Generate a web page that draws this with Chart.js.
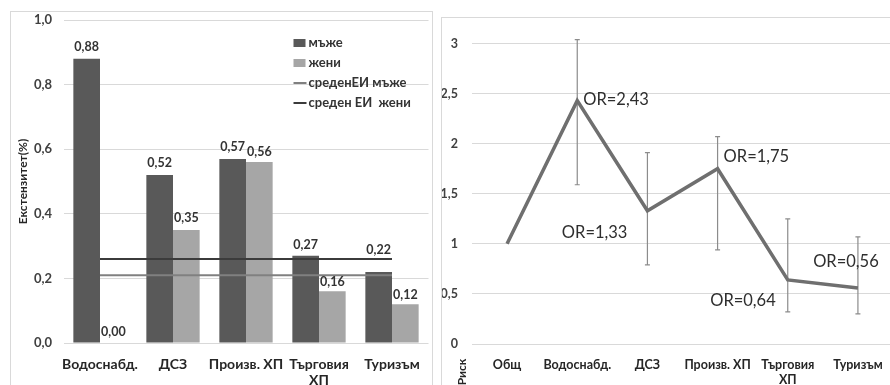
<!DOCTYPE html>
<html>
<head>
<meta charset="utf-8">
<script src="https://cdn.jsdelivr.net/npm/chart.js@4"></script>
<style>
  html, body { margin: 0; padding: 0; background: #fff; overflow: hidden; width: 890px; height: 385px; }
  .panel { position: absolute; background: #fff; }
  #p1 { left: 10px; top: 11px; width: 421px; height: 380px; border: 1px solid #d9d9d9; }
  #p2 { left: 441px; top: 17px; width: 460px; height: 380px; border-left: 1px solid #d9d9d9; border-top: 1px solid #d9d9d9; }
  canvas { position: absolute; left: 0; top: 0; }
</style>
</head>
<body>
<div id="p1" class="panel"><canvas id="extChart" width="421" height="373"></canvas></div>
<div id="p2" class="panel"><canvas id="orChart" width="452" height="367"></canvas></div>
<script>
// ---- Extensity by sector (%) ----
const sectors = ['Водоснабд.', 'ДСЗ', 'Произв. ХП', ['Търговия', 'ХП'], 'Туризъм'];
const men = [0.88, 0.52, 0.57, 0.27, 0.22];
const women = [0.00, 0.35, 0.56, 0.16, 0.12];
const meanMen = 0.21;
const meanWomen = 0.26;
const extTicks = [0, 0.2, 0.4, 0.6, 0.8, 1.0];

// ---- Odds ratio by sector, with confidence intervals ----
const riskGroups = ['Общ', 'Водоснабд.', 'ДСЗ', 'Произв. ХП', ['Търговия', 'ХП'], 'Туризъм'];
const oddsRatio = [1, 2.43, 1.33, 1.75, 0.64, 0.56];
const ciLow = [null, 1.59, 0.79, 0.94, 0.32, 0.30];
const ciHigh = [null, 3.04, 1.91, 2.07, 1.25, 1.07];
const riskTicks = [0, 0.5, 1, 1.5, 2, 2.5, 3];

// label placement (pixels, relative to the mark)
const valueLabelLift = [[12, 12, 12, 11, 22], [11, 12, 10, 9, 9]];
const orLabelPlacement = [
  null,
  { dx: 6, dy: -1, align: 'left' },
  { dx: -20, dy: 22, align: 'right' },
  { dx: 6, dy: -12, align: 'left' },
  { dx: -12, dy: 21, align: 'right' },
  { dx: -12, dy: -26, align: 'center' }
];

const FONT = 'Lato, "Liberation Sans", sans-serif';
const comma = v => String(v).replace('.', ',');

// keep the plot area exactly where the layout padding puts it
function noScalePadding(s) {
  s.paddingTop = 0; s.paddingBottom = 0; s.paddingLeft = 0; s.paddingRight = 0;
}

// values above the bars
const barValueLabels = {
  id: 'barValueLabels',
  afterDatasetsDraw(chart) {
    const ctx = chart.ctx;
    ctx.save();
    ctx.font = 'bold 12.5px ' + FONT;
    ctx.fillStyle = '#333';
    ctx.textAlign = 'center';
    ctx.textBaseline = 'middle';
    [0, 1].forEach(di => {
      const meta = chart.getDatasetMeta(di);
      const data = chart.data.datasets[di].data;
      meta.data.forEach((el, i) => {
        ctx.fillText(data[i].toFixed(2).replace('.', ','), el.x, el.y - valueLabelLift[di][i]);
      });
    });
    ctx.restore();
  }
};

// legend placed inside the plot area, top right
const insideLegend = {
  id: 'insideLegend',
  afterDraw(chart) {
    const ctx = chart.ctx;
    const area = chart.chartArea;
    const x0 = area.right - 135;
    let y = area.top + 23;
    ctx.save();
    ctx.font = 'bold 13px ' + FONT;
    ctx.textBaseline = 'middle';
    ctx.textAlign = 'left';
    chart.data.datasets.forEach(ds => {
      if (ds.type === 'line') {
        ctx.strokeStyle = ds.borderColor;
        ctx.lineWidth = 2;
        ctx.beginPath();
        ctx.moveTo(x0, y);
        ctx.lineTo(x0 + 13, y);
        ctx.stroke();
      } else {
        ctx.fillStyle = ds.backgroundColor;
        ctx.fillRect(x0, y - 4, 12, 8);
      }
      ctx.fillStyle = '#333';
      ctx.fillText(ds.label, x0 + 15, y);
      y += 20;
    });
    ctx.restore();
  }
};

new Chart(document.getElementById('extChart'), {
  type: 'bar',
  data: {
    labels: sectors,
    datasets: [
      { label: 'мъже', data: men, backgroundColor: '#595959', order: 2, categoryPercentage: 0.73, barPercentage: 1 },
      { label: 'жени', data: women, backgroundColor: '#a6a6a6', order: 2, categoryPercentage: 0.73, barPercentage: 1 },
      { type: 'line', label: 'среденЕИ мъже', data: sectors.map(() => meanMen), borderColor: '#808080', borderWidth: 2, pointRadius: 0, order: 1 },
      { type: 'line', label: 'среден ЕИ  жени', data: sectors.map(() => meanWomen), borderColor: '#3b3b3b', borderWidth: 2, pointRadius: 0, order: 1 }
    ]
  },
  options: {
    responsive: false,
    animation: false,
    layout: { padding: { left: 0, right: 3.5, top: 8, bottom: 0 } },
    plugins: { legend: { display: false }, tooltip: { enabled: false } },
    scales: {
      x: {
        grid: { display: false },
        border: { display: false },
        ticks: { color: '#262626', font: { family: FONT, size: 14, weight: 'bold', lineHeight: 1.15 }, padding: 5, maxRotation: 0, autoSkip: false },
        afterFit(s) { s.height = 42; noScalePadding(s); }
      },
      y: {
        min: 0, max: 1,
        grid: { color: '#d9d9d9', drawTicks: false },
        border: { display: false },
        afterBuildTicks(s) { s.ticks = extTicks.map(v => ({ value: v })); },
        ticks: { color: '#404040', font: { family: FONT, size: 13, weight: 'bold' }, padding: 11.5, callback: v => v.toFixed(1).replace('.', ',') },
        title: { display: true, text: 'Екстензитет(%)', color: '#262626', font: { family: FONT, size: 12, weight: 'bold' }, padding: { top: 5, bottom: 0 } },
        afterFit(s) { s.width = 52.5; noScalePadding(s); }
      }
    }
  },
  plugins: [barValueLabels, insideLegend]
});

// confidence interval whiskers
const errorBars = {
  id: 'errorBars',
  beforeDatasetsDraw(chart) {
    const ctx = chart.ctx;
    const meta = chart.getDatasetMeta(0);
    const ys = chart.scales.y;
    ctx.save();
    ctx.strokeStyle = '#8c8c8c';
    ctx.lineWidth = 1.2;
    meta.data.forEach((pt, i) => {
      if (ciLow[i] == null) return;
      const lo = ys.getPixelForValue(ciLow[i]);
      const hi = ys.getPixelForValue(ciHigh[i]);
      ctx.beginPath();
      ctx.moveTo(pt.x, lo); ctx.lineTo(pt.x, hi);
      ctx.moveTo(pt.x - 2.5, lo); ctx.lineTo(pt.x + 2.5, lo);
      ctx.moveTo(pt.x - 2.5, hi); ctx.lineTo(pt.x + 2.5, hi);
      ctx.stroke();
    });
    ctx.restore();
  }
};

// OR annotations next to the points
const orLabels = {
  id: 'orLabels',
  afterDatasetsDraw(chart) {
    const ctx = chart.ctx;
    const meta = chart.getDatasetMeta(0);
    ctx.save();
    ctx.font = '16.5px ' + FONT;
    ctx.fillStyle = '#2e2e2e';
    ctx.textBaseline = 'middle';
    meta.data.forEach((pt, i) => {
      const p = orLabelPlacement[i];
      if (!p) return;
      ctx.textAlign = p.align;
      ctx.fillText('OR=' + oddsRatio[i].toFixed(2).replace('.', ','), pt.x + p.dx, pt.y + p.dy);
    });
    ctx.restore();
  }
};

// axis caption set low beside the value axis
const riskTitle = {
  id: 'riskTitle',
  afterDraw(chart) {
    const ctx = chart.ctx;
    ctx.save();
    ctx.translate(20, 354);
    ctx.rotate(-Math.PI / 2);
    ctx.font = 'bold 12px ' + FONT;
    ctx.fillStyle = '#262626';
    ctx.textAlign = 'center';
    ctx.textBaseline = 'middle';
    ctx.fillText('Риск', 0, 0);
    ctx.restore();
  }
};

new Chart(document.getElementById('orChart'), {
  type: 'line',
  data: {
    labels: riskGroups,
    datasets: [
      { label: 'OR', data: oddsRatio, borderColor: '#6f6f6f', borderWidth: 3.5, pointRadius: 0, tension: 0, borderJoinStyle: 'miter' }
    ]
  },
  options: {
    responsive: false,
    animation: false,
    layout: { padding: { left: 0, right: 1, top: 5.5, bottom: 0 } },
    plugins: { legend: { display: false }, tooltip: { enabled: false } },
    scales: {
      x: {
        offset: true,
        grid: { display: false },
        border: { display: false },
        ticks: { color: '#262626', font: { family: FONT, size: 12.5, weight: 'bold', lineHeight: 1.25 }, padding: 5, maxRotation: 0, autoSkip: false },
        afterFit(s) { s.height = 41; noScalePadding(s); }
      },
      y: {
        min: 0, max: 3.2,
        grid: { color: '#d9d9d9', drawTicks: false },
        border: { display: false },
        afterBuildTicks(s) { s.ticks = riskTicks.map(v => ({ value: v })); },
        ticks: { color: '#404040', font: { family: FONT, size: 12.5, weight: 'bold' }, padding: 14, callback: v => comma(v) },
        afterFit(s) { s.width = 30; noScalePadding(s); }
      }
    }
  },
  plugins: [errorBars, orLabels, riskTitle]
});
</script>
</body>
</html>
